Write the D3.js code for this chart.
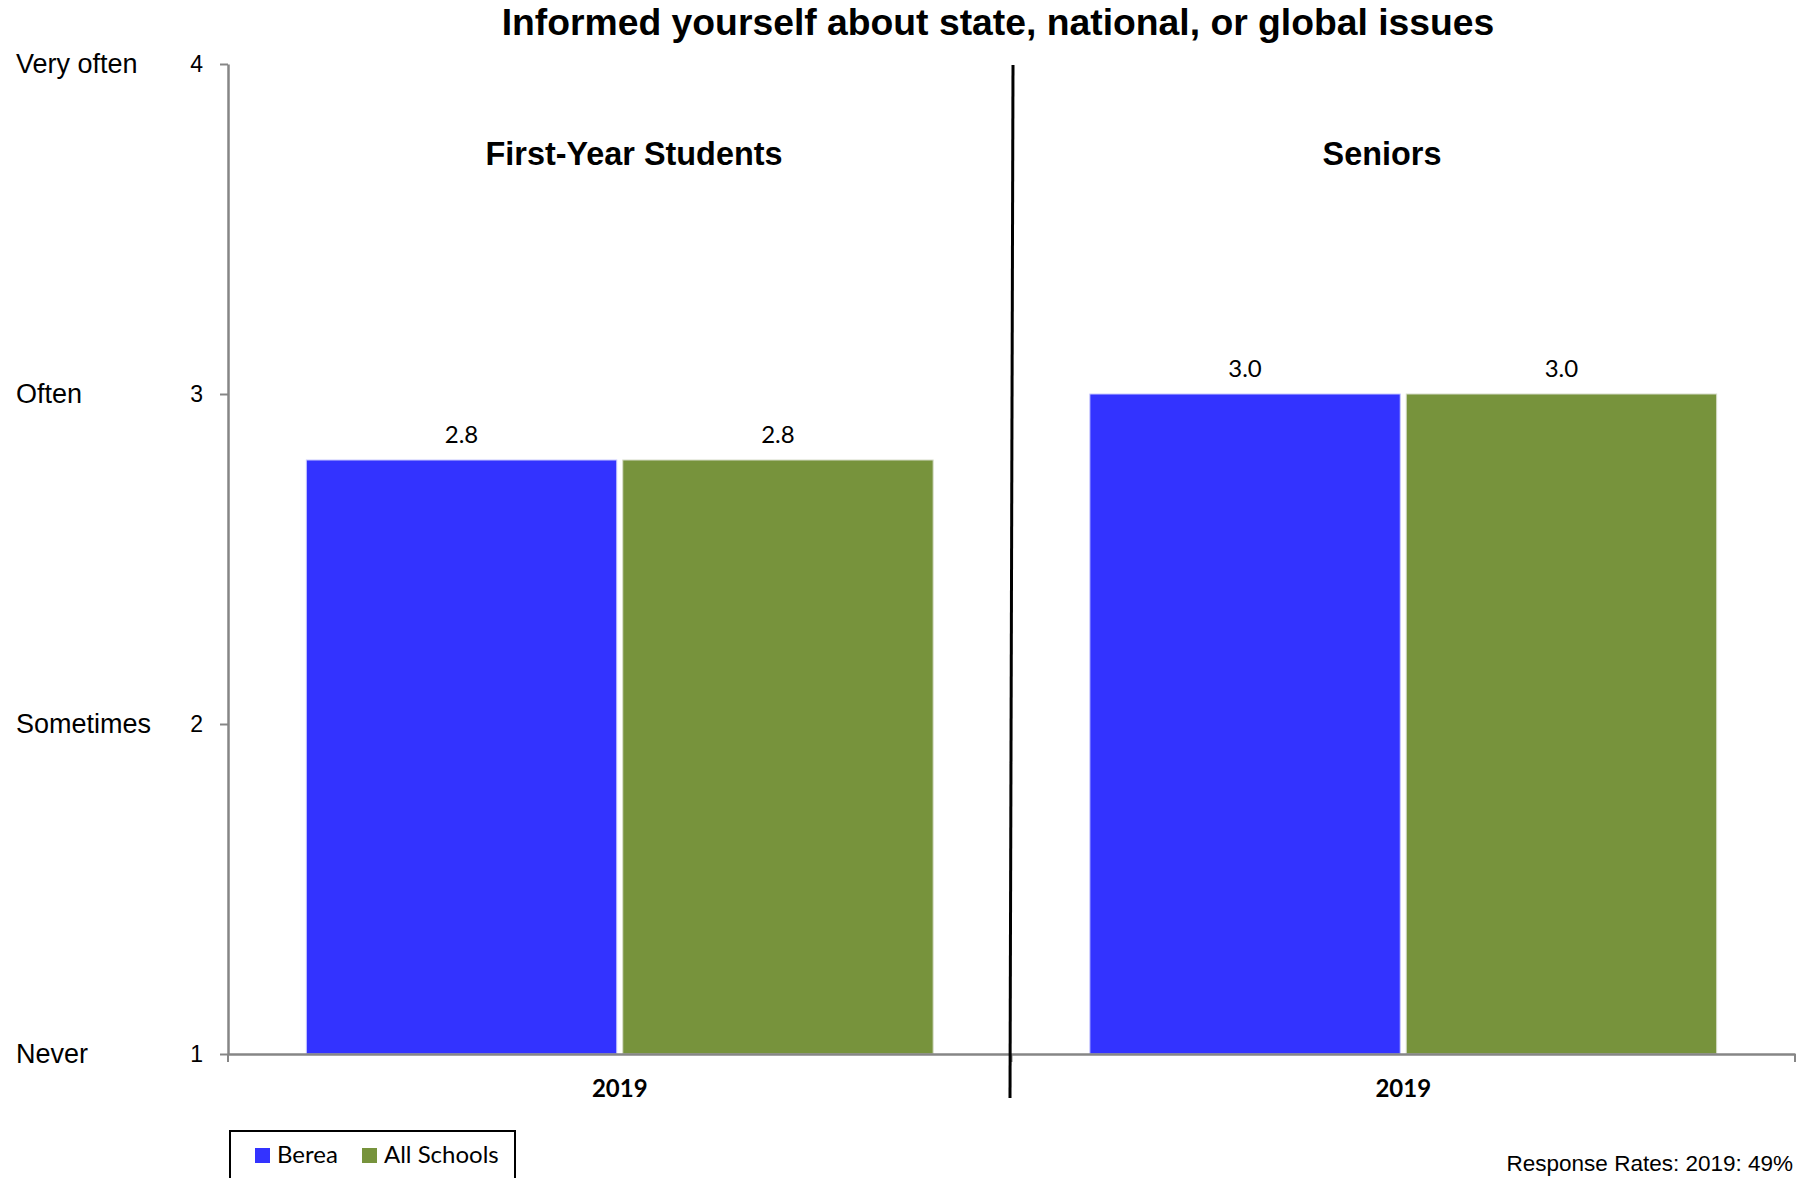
<!DOCTYPE html>
<html>
<head>
<meta charset="utf-8">
<script src="https://cdn.jsdelivr.net/npm/d3@7"></script>
<style>
  html, body { margin: 0; padding: 0; background: #fff; }
  svg { display: block; }
</style>
</head>
<body>
<svg id="chart" width="1810" height="1178"></svg>
<script>
// Chart data
const chartTitle = "Informed yourself about state, national, or global issues";
const groups = ["First-Year Students", "Seniors"];
const years = ["2019", "2019"];
const seriesNames = ["Berea", "All Schools"];
const bereaValues = [2.8, 3.0];
const allSchoolsValues = [2.8, 3.0];
const yTickValues = [1, 2, 3, 4];
const yTickNames = ["Never", "Sometimes", "Often", "Very often"];
const responseNote = "Response Rates: 2019: 49%";

const seriesColors = ["#3333FF", "#77933C"];
const seriesStrokes = ["#C8C8FF", "#D6DCC8"];
const axisColor = "#868686";

const svg = d3.select("#chart");

// Plot area
const plot = { left: 228, right: 1795, top: 64, bottom: 1054 };

const y = d3.scaleLinear().domain([1, 4]).range([plot.bottom, plot.top]);

const x = d3.scaleBand()
  .domain(d3.range(groups.length))
  .range([plot.left, plot.right])
  .paddingInner(0).paddingOuter(0);

const inner = d3.scaleBand()
  .domain(seriesNames)
  .range([x.bandwidth() * 0.1, x.bandwidth() * 0.9])
  .paddingInner(0.019).paddingOuter(0);

const rows = groups.map((g, i) => ({
  group: g,
  year: years[i],
  values: [bereaValues[i], allSchoolsValues[i]]
}));

// Title
svg.append("text")
  .attr("x", 998).attr("y", 35)
  .attr("text-anchor", "middle")
  .style("font-family", "'Liberation Sans', Arial, sans-serif")
  .style("font-weight", "bold")
  .style("font-size", "37.3px")
  .text(chartTitle);

// Y axis
const yAxis = d3.axisLeft(y)
  .tickValues(yTickValues)
  .tickFormat(d3.format("d"))
  .tickSize(8)
  .tickPadding(17)
  .tickSizeOuter(0);

const gy = svg.append("g")
  .attr("transform", `translate(${plot.left},0)`)
  .call(yAxis);
gy.select(".domain").attr("stroke", axisColor).attr("stroke-width", 2.5);
gy.selectAll(".tick line").attr("stroke", axisColor).attr("stroke-width", 2);
gy.selectAll(".tick text")
  .style("font-family", "'Liberation Sans', Arial, sans-serif")
  .style("font-size", "23px")
  .attr("fill", "#000");

// Verbal scale labels
svg.append("g").selectAll("text")
  .data(yTickValues)
  .join("text")
  .attr("x", 16)
  .attr("y", d => y(d))
  .attr("dy", "0.35em")
  .style("font-family", "'Liberation Sans', Arial, sans-serif")
  .style("font-size", "27px")
  .text((d, i) => yTickNames[i]);

// Bars
const gGroups = svg.append("g").selectAll("g")
  .data(rows)
  .join("g")
  .attr("transform", (d, i) => `translate(${x(i)},0)`);

gGroups.selectAll("rect")
  .data(d => d.values.map((v, j) => ({ name: seriesNames[j], value: v, j })))
  .join("rect")
  .attr("x", d => inner(d.name))
  .attr("width", inner.bandwidth())
  .attr("y", d => y(d.value))
  .attr("height", d => y(1) - y(d.value))
  .attr("fill", d => seriesColors[d.j])
  .attr("stroke", d => seriesStrokes[d.j])
  .attr("stroke-width", 1);

// Value labels
gGroups.selectAll("text.val")
  .data(d => d.values.map((v, j) => ({ name: seriesNames[j], value: v })))
  .join("text")
  .attr("class", "val")
  .attr("x", d => inner(d.name) + inner.bandwidth() / 2)
  .attr("y", d => y(d.value) - 17)
  .attr("text-anchor", "middle")
  .style("font-family", "Lato, 'Open Sans', sans-serif")
  .style("font-size", "24px")
  .text(d => d3.format(".1f")(d.value));

// X axis
const xAxis = d3.axisBottom(x)
  .tickFormat(i => years[i])
  .tickSize(0)
  .tickPadding(26)
  .tickSizeOuter(0);

const gx = svg.append("g")
  .attr("transform", `translate(0,${plot.bottom})`)
  .call(xAxis);
gx.select(".domain").attr("stroke", axisColor).attr("stroke-width", 2.5);
gx.selectAll(".tick text")
  .style("font-family", "Lato, 'Open Sans', sans-serif")
  .style("font-weight", "bold")
  .style("font-size", "24px")
  .attr("fill", "#000");

// Category boundary ticks
const boundaries = d3.range(groups.length).map(i => x(i)).concat([x.range()[1]]);
gx.selectAll("line.bound")
  .data(boundaries)
  .join("line")
  .attr("class", "bound")
  .attr("x1", d => d).attr("x2", d => d)
  .attr("y1", 0).attr("y2", 8)
  .attr("stroke", axisColor).attr("stroke-width", 2);

// Divider between the two groups
const divX = x(1);
svg.append("line")
  .attr("x1", divX + 1.5).attr("y1", 65)
  .attr("x2", divX - 1.5).attr("y2", 1098)
  .attr("stroke", "#000").attr("stroke-width", 3);

// Group titles
const groupTitleX = [634, 1382];
svg.append("g").selectAll("text")
  .data(groups)
  .join("text")
  .attr("x", (d, i) => groupTitleX[i])
  .attr("y", 165)
  .attr("text-anchor", "middle")
  .style("font-family", "'Liberation Sans', Arial, sans-serif")
  .style("font-weight", "bold")
  .style("font-size", "32.4px")
  .text(d => d);

// Legend
const legend = svg.append("g").attr("transform", "translate(230,1131)");
legend.append("rect")
  .attr("x", 0).attr("y", 0)
  .attr("width", 285).attr("height", 70)
  .attr("fill", "#fff")
  .attr("stroke", "#000").attr("stroke-width", 2);
const legendOffsets = [25, 132];
const items = legend.selectAll("g.item")
  .data(seriesNames)
  .join("g")
  .attr("class", "item")
  .attr("transform", (d, i) => `translate(${legendOffsets[i]},0)`);
items.append("rect")
  .attr("x", 0).attr("y", 17)
  .attr("width", 15).attr("height", 15)
  .attr("fill", (d, i) => seriesColors[i]);
items.append("text")
  .attr("x", 22).attr("y", 32)
  .style("font-family", "Lato, 'Open Sans', sans-serif")
  .style("font-size", "24px")
  .text(d => d);

// Response rate note
svg.append("text")
  .attr("x", 1793).attr("y", 1171)
  .attr("text-anchor", "end")
  .style("font-family", "'Liberation Sans', Arial, sans-serif")
  .style("font-size", "22.5px")
  .text(responseNote);
</script>
</body>
</html>
